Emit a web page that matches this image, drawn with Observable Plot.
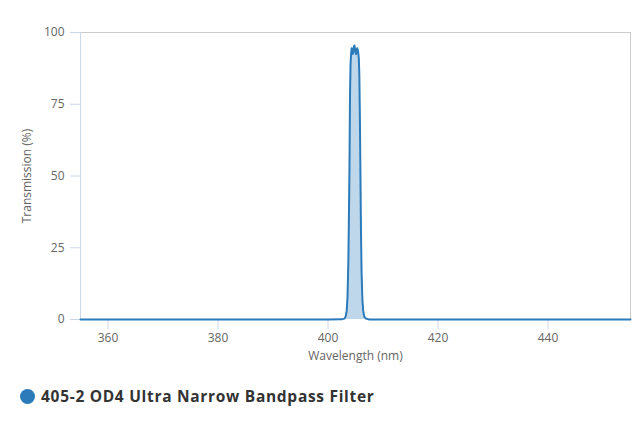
<!DOCTYPE html>
<html>
<head>
<meta charset="utf-8">
<script src="https://cdn.jsdelivr.net/npm/d3@7"></script>
<script src="https://cdn.jsdelivr.net/npm/@observablehq/plot@0.6"></script>
<style>
  html, body { margin: 0; padding: 0; background: #fff; }
  #chart svg { display: block; }
  .legend { height: 22px; line-height: 22px; display: flex; align-items: center; padding-left: 20px; margin-top: 10px;
    font-family: "Open Sans", sans-serif; font-weight: 700; font-size: 15.5px; letter-spacing: 0.7px; color: #333; }
  .legend .dot { width: 15px; height: 15px; border-radius: 50%; background: #2b7bba; margin-right: 6px; }
</style>
</head>
<body>
<div id="chart"></div>
<script>
const seriesName = "405-2 OD4 Ultra Narrow Bandpass Filter";
const wavelength = [355, 380, 400, 402.5, 403.0, 403.2, 403.4, 403.55, 403.7, 403.8, 403.9, 404.0, 404.1, 404.2, 404.3, 404.4, 404.5, 404.6, 404.7, 404.8, 404.9, 405.0, 405.1, 405.2, 405.3, 405.4, 405.5, 405.6, 405.7, 405.8, 405.9, 406.0, 406.1, 406.25, 406.4, 406.6, 406.9, 407.5, 420, 440, 455];
const transmission = [0, 0, 0, 0.05, 0.3, 1, 3, 8, 20, 35, 52, 78, 89, 92.5, 94.5, 93.5, 92.5, 93.5, 95, 95.5, 94.5, 93, 92.5, 93.5, 94.5, 94, 93, 91, 85, 70, 50, 30, 17, 7, 3, 1, 0.3, 0, 0, 0, 0];
const xTicks = [360, 380, 400, 420, 440];
const yTicks = [0, 25, 50, 75, 100];

const data = wavelength.map((w, i) => ({w, t: transmission[i]}));
const lineColor = "#2b7bba";
const axisColor = "#ccd6eb";

const chart = Plot.plot({
  width: 640,
  height: 375,
  marginTop: 32,
  marginRight: 10,
  marginBottom: 56,
  marginLeft: 80,
  style: {fontFamily: "'Open Sans', sans-serif", fontSize: "12px", color: "#666", background: "#fff"},
  x: {domain: [355, 455]},
  y: {domain: [0, 100]},
  marks: [
    Plot.ruleY([100], {stroke: "#ccc", strokeWidth: 1}),
    Plot.ruleX([455], {stroke: "#ccc", strokeWidth: 1}),
    Plot.ruleX([355], {stroke: axisColor, strokeWidth: 1}),
    Plot.axisY({ticks: yTicks, tickSize: 10, tickPadding: 6, stroke: axisColor, color: "#666",
      label: "Transmission (%)", labelAnchor: "center", labelArrow: "none", labelOffset: 58}),
    Plot.axisX({ticks: xTicks, tickSize: 10, tickPadding: 4, stroke: axisColor, color: "#666",
      label: "Wavelength (nm)", labelAnchor: "center", labelArrow: "none", labelOffset: 40}),
    Plot.areaY(data, {x: "w", y: "t", fill: lineColor, fillOpacity: 0.3}),
    Plot.lineY(data, {x: "w", y: "t", stroke: lineColor, strokeWidth: 2})
  ]
});
document.getElementById("chart").appendChild(chart);

const legend = document.createElement("div");
legend.className = "legend";
legend.innerHTML = '<span class="dot"></span><span></span>';
legend.lastChild.textContent = seriesName;
document.body.appendChild(legend);
</script>
</body>
</html>
